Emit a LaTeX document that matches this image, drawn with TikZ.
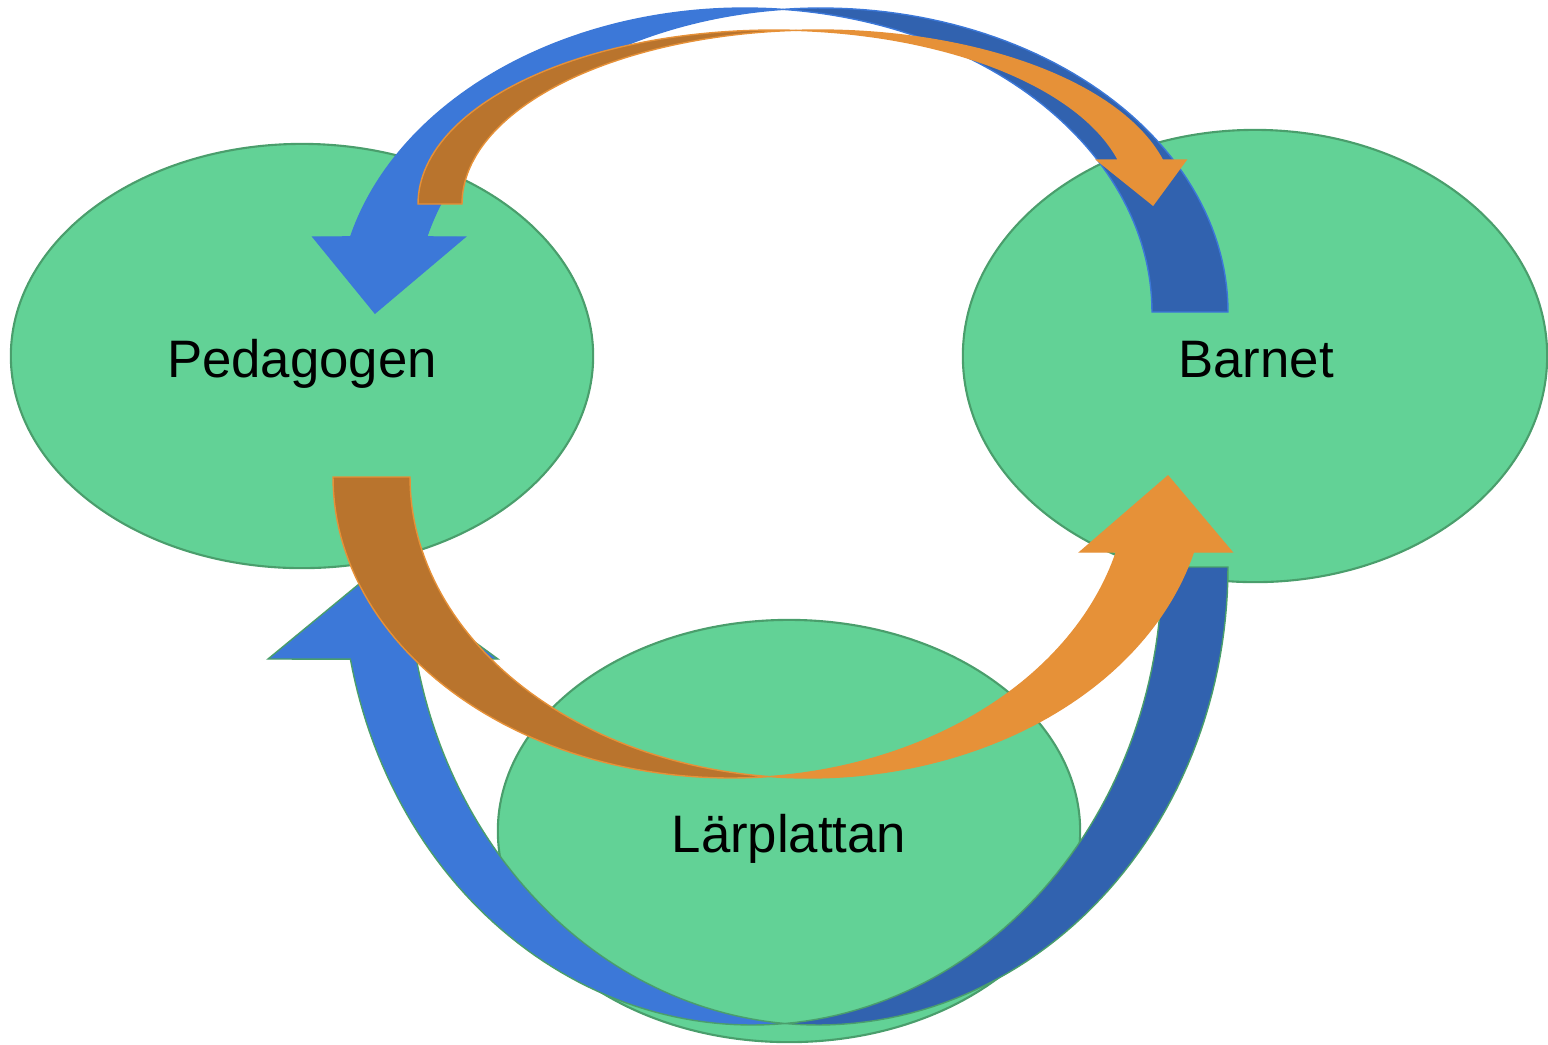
\documentclass[tikz,border=0pt]{standalone}
\usepackage{fontspec}
\setmainfont{Liberation Sans}
\usetikzlibrary{shapes.geometric}
\definecolor{egreen}{RGB}{98,210,150}
\definecolor{eline}{RGB}{74,158,108}
\definecolor{lblue}{RGB}{60,120,216}
\definecolor{dblue}{RGB}{49,98,175}
\definecolor{lorange}{RGB}{230,145,56}
\definecolor{dorange}{RGB}{185,116,45}
\tikzset{
  bubble/.style={ellipse, draw=eline, fill=egreen, line width=0.6pt, inner sep=0pt},
  lbl/.style={font=\fontsize{15}{18}\selectfont, text=black, inner sep=0pt, anchor=base},
  bluelight/.style={fill=lblue, draw=lblue, line width=0.4pt},
  bluedark/.style={fill=dblue, draw=lblue, line width=0.4pt},
  bluelightg/.style={fill=lblue, draw=eline, line width=0.4pt},
  bluedarkg/.style={fill=dblue, draw=eline, line width=0.4pt},
  orlight/.style={fill=lorange, draw=lorange, line width=0.4pt},
  ordark/.style={fill=dorange, draw=lorange, line width=0.4pt},
}
\begin{document}
\begin{tikzpicture}[x=0.01cm,y=-0.01cm]
\useasboundingbox (0,0) rectangle (1548,1044);
% ellipses
\node[bubble, minimum width=5.82cm, minimum height=4.24cm] (ped) at (302,356) {};
\node[bubble, minimum width=5.84cm, minimum height=4.52cm] (bar) at (1255,356) {};
\node[bubble, minimum width=5.82cm, minimum height=4.22cm] (lar) at (789,831) {};

% bottom blue arrow (Barnet -> Pedagogen, below)
\filldraw[bluedarkg] plot[domain=94.6:0, samples=60] ({818+410*cos(\x)},{567+458*sin(\x)})
  -- plot[domain=0:85.4, samples=60] ({752+410*cos(\x)},{567+458*sin(\x)}) -- cycle;
\filldraw[bluelightg] plot[domain=85.4:168.4, samples=60] ({752+410*cos(\x)},{567+458*sin(\x)})
  -- (268,659) -- (376,570) -- (498,659)
  -- plot[domain=168.4:94.6, samples=60] ({818+410*cos(\x)},{567+458*sin(\x)}) -- cycle;

% top blue arrow (Barnet -> Pedagogen, above)
\filldraw[bluedark] plot[domain=95.4:0, samples=60] ({821+407*cos(\x)},{312-304*sin(\x)})
  -- plot[domain=0:84.6, samples=60] ({745+407*cos(\x)},{312-304*sin(\x)}) -- cycle;
\filldraw[bluelight] plot[domain=84.6:165.7, samples=60] ({745+407*cos(\x)},{312-304*sin(\x)})
  -- (313,237) -- (375,313) -- (465,237)
  -- plot[domain=165.7:95.4, samples=60] ({821+407*cos(\x)},{312-304*sin(\x)}) -- cycle;

% top orange arrow (Pedagogen -> Barnet, above)
\filldraw[ordark] plot[domain=180:86.5, samples=60] ({774+356*cos(\x)},{204-174*sin(\x)})
  -- plot[domain=93.5:180, samples=60] ({818+356*cos(\x)},{204-174*sin(\x)}) -- cycle;
\filldraw[orlight] plot[domain=93.5:14.65, samples=60] ({818+356*cos(\x)},{204-174*sin(\x)})
  -- (1186,160) -- (1153,205) -- (1097,160)
  -- plot[domain=14.65:86.5, samples=60] ({774+356*cos(\x)},{204-174*sin(\x)}) -- cycle;

% bottom orange arrow (Pedagogen -> Barnet, below)
\filldraw[ordark] plot[domain=180:84.45, samples=60] ({731+398*cos(\x)},{477+301*sin(\x)})
  -- plot[domain=95.55:180, samples=60] ({808+398*cos(\x)},{477+301*sin(\x)}) -- cycle;
\filldraw[orlight] plot[domain=95.55:14.43, samples=60] ({808+398*cos(\x)},{477+301*sin(\x)})
  -- (1232,552) -- (1168,476) -- (1080,552)
  -- plot[domain=14.43:84.45, samples=60] ({731+398*cos(\x)},{477+301*sin(\x)}) -- cycle;

% labels
\node[lbl] (pedtext) at ([yshift=-0.21cm]ped.center) {Pedagogen};
\node[lbl] (bartext) at ([yshift=-0.21cm,xshift=0.01cm]bar.center) {Barnet};
\node[lbl] (lartext) at ([yshift=-0.21cm]lar.center) {Lärplattan};
\end{tikzpicture}
\end{document}
